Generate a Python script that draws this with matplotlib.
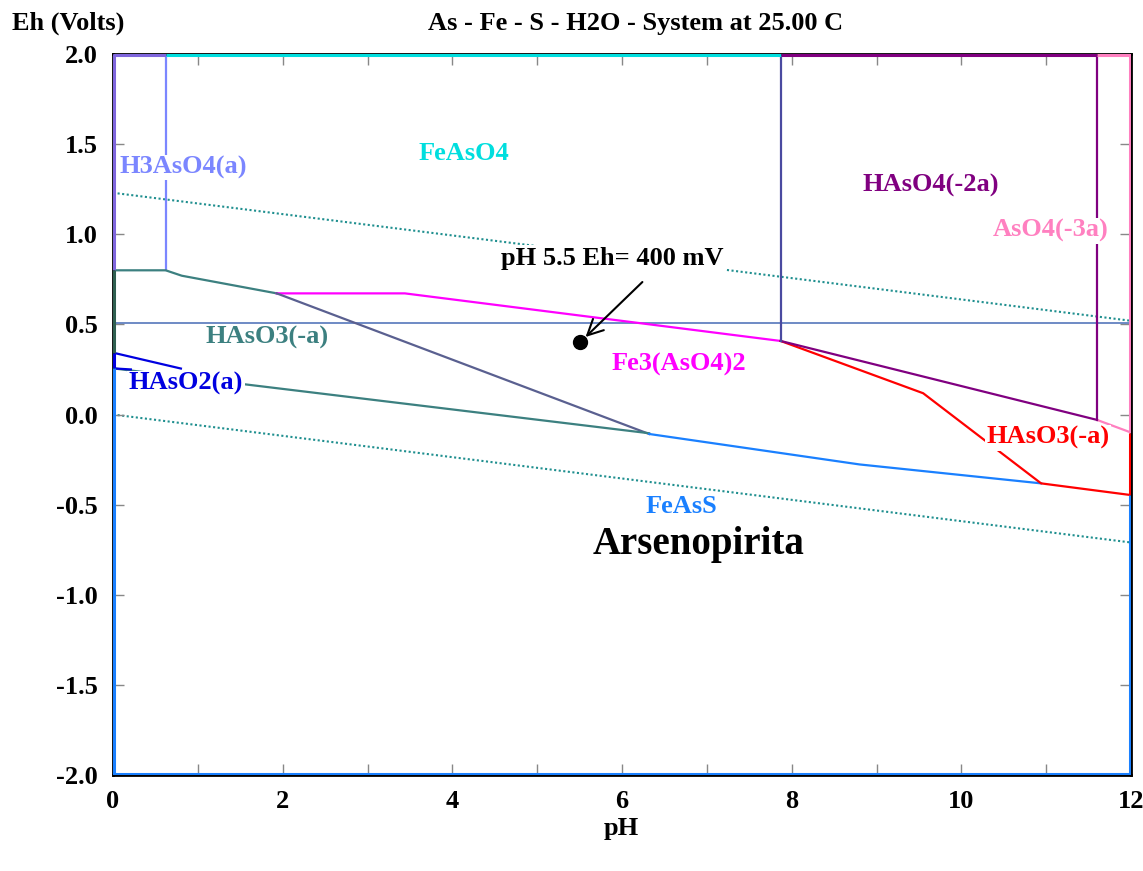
import matplotlib
matplotlib.use("Agg")
import matplotlib.pyplot as plt

# Eh-pH diagram for the As - Fe - S - H2O system at 25 C
plt.rcParams['font.family'] = ['Liberation Serif', 'DejaVu Serif']
plt.rcParams['font.weight'] = 'bold'

# water stability limits (dotted)
water_ph = [0.0, 12.0]
water_upper_eh = [1.23, 0.52]
water_lower_eh = [0.0, -0.71]

# field boundaries
h3aso4_ph = [0.62, 0.62]
h3aso4_eh = [2.0, 0.80]

hasO3_top_ph = [0.0, 0.62, 0.81, 1.93]
hasO3_top_eh = [0.80, 0.80, 0.77, 0.672]

fe3_ph = [1.93, 3.44, 7.87]
fe3_eh = [0.672, 0.672, 0.408]

slate_ph = [1.93, 6.32]
slate_eh = [0.672, -0.108]

hasO2_ph = [0.0, 0.80]
hasO2_eh = [0.343, 0.255]
hasO2_low_ph = [0.0, 0.21]
hasO2_low_eh = [0.256, 0.25]

hasO3_low_ph = [0.0, 6.32]
hasO3_low_eh = [0.256, -0.104]

feass_ph = [6.32, 8.8, 10.94]
feass_eh = [-0.108, -0.277, -0.382]

red_ph = [7.87, 9.55, 10.94, 12.0]
red_eh = [0.408, 0.118, -0.382, -0.447]

hasO4_ph = [7.87, 11.6]
hasO4_eh = [0.408, -0.03]

aso4_ph = [11.6, 12.0]
aso4_eh = [-0.03, -0.10]

v79_ph = [7.87, 7.87]
v79_eh = [2.0, 0.408]
v116_ph = [11.6, 11.6]
v116_eh = [2.0, -0.03]

hline_ph = [0.0, 12.0]
hline_eh = [0.51, 0.51]

# point of interest
point_ph = 5.5
point_eh = 0.40

C_CYAN = '#00dede'
C_H3 = '#7b86ff'
C_TEAL = '#3c8080'
C_HASO2 = '#0000e0'
C_MAG = '#ff00ff'
C_SLATE = '#5a6090'
C_FEASS = '#1a80ff'
C_PURPLE = '#800080'
C_PINK = '#ff80c0'
C_RED = '#ff0000'
C_HLINE = '#5577bb'
C_V79 = '#4a4aa0'
C_WATER = '#1f8f8f'

fig = plt.figure(figsize=(11.43, 8.71), dpi=100)
ax = fig.add_axes([0.0989, 0.1102, 0.8906, 0.8278])
ax.set_xlim(0, 12)
ax.set_ylim(-2, 2)

lw = 1.6
ax.plot(water_ph, water_upper_eh, color=C_WATER, ls=(0, (1, 1.2)), lw=1.5, zorder=1)
ax.plot(water_ph, water_lower_eh, color=C_WATER, ls=(0, (1, 1.2)), lw=1.5, zorder=1)
ax.plot(hline_ph, hline_eh, color=C_HLINE, lw=1.2, zorder=2)

ax.plot(h3aso4_ph, h3aso4_eh, color=C_H3, lw=lw, zorder=2)
ax.plot(hasO3_top_ph, hasO3_top_eh, color=C_TEAL, lw=lw, zorder=2)
ax.plot(fe3_ph, fe3_eh, color=C_MAG, lw=lw, zorder=2)
ax.plot(slate_ph, slate_eh, color=C_SLATE, lw=lw, zorder=2)
ax.plot(hasO3_low_ph, hasO3_low_eh, color=C_TEAL, lw=lw, zorder=2)
ax.plot(hasO2_ph, hasO2_eh, color=C_HASO2, lw=lw, zorder=2)
ax.plot(hasO2_low_ph, hasO2_low_eh, color=C_HASO2, lw=lw, zorder=3)
ax.plot(feass_ph, feass_eh, color=C_FEASS, lw=lw, zorder=2)
ax.plot(red_ph, red_eh, color=C_RED, lw=lw, zorder=2)
ax.plot(hasO4_ph, hasO4_eh, color=C_PURPLE, lw=lw, zorder=2)
ax.plot(aso4_ph, aso4_eh, color=C_PINK, lw=lw, zorder=2)
ax.plot(v79_ph, v79_eh, color=C_V79, lw=lw, zorder=2)
ax.plot(v116_ph, v116_eh, color=C_PURPLE, lw=lw, zorder=2)

# coloured frame segments along the plot border
e = 0.015
ed = 0.006
border = [
    ([e, e], [2.0, 0.80], '#7f66dd'),
    ([e, e], [0.80, 0.343], '#2f5f50'),
    ([e, e], [0.343, 0.256], C_HASO2),
    ([e, e], [0.256, -2.0], C_FEASS),
    ([0.0, 0.62], [2 - ed, 2 - ed], '#7f66dd'),
    ([0.62, 7.87], [2 - ed, 2 - ed], C_CYAN),
    ([7.87, 11.6], [2 - ed, 2 - ed], C_PURPLE),
    ([11.6, 12.0], [2 - ed, 2 - ed], C_PINK),
    ([0.0, 12.0], [-2 + ed, -2 + ed], C_FEASS),
    ([12 - e, 12 - e], [2.0, -0.10], C_PINK),
    ([12 - e, 12 - e], [-0.10, -0.447], C_RED),
    ([12 - e, 12 - e], [-0.447, -2.0], C_FEASS),
]
for xs, ys, c in border:
    ax.plot(xs, ys, color=c, lw=2.2, zorder=4, solid_capstyle='butt')

for s in ax.spines.values():
    s.set_linewidth(2)
    s.set_color('black')
    s.set_zorder(3)

fs = 19
ax.set_xticks(range(0, 13))
ax.set_xticklabels([str(v) if v % 2 == 0 else '' for v in range(0, 13)])
ax.set_yticks([-2.0, -1.5, -1.0, -0.5, 0.0, 0.5, 1.0, 1.5, 2.0])
ax.set_yticklabels(['-2.0', '-1.5', '-1.0', '-0.5', '0.0', '0.5', '1.0', '1.5', '2.0'])
ax.tick_params(direction='in', length=8, width=1, color='#888888',
               top=True, right=True, labelsize=fs, pad=11)
for lab in ax.get_xticklabels() + ax.get_yticklabels():
    lab.set_fontweight('bold')

white = dict(facecolor='white', edgecolor='none', pad=1)
ax.text(4.14, 1.45, 'FeAsO4', color=C_CYAN, fontsize=fs, ha='center', va='center')
ax.text(0.08, 1.37, 'H3AsO4(a)', color=C_H3, fontsize=fs, ha='left', va='center',
        bbox=white, zorder=5)
ax.text(9.64, 1.27, 'HAsO4(-2a)', color=C_PURPLE, fontsize=fs, ha='center', va='center')
ax.text(11.05, 1.02, 'AsO4(-3a)', color=C_PINK, fontsize=fs, ha='center', va='center',
        bbox=white, zorder=5)
ax.text(1.81, 0.43, 'HAsO3(-a)', color=C_TEAL, fontsize=fs, ha='center', va='center')
ax.text(0.86, 0.17, 'HAsO2(a)', color=C_HASO2, fontsize=fs, ha='center', va='center',
        bbox=white, zorder=5)
ax.text(6.67, 0.275, 'Fe3(AsO4)2', color=C_MAG, fontsize=fs, ha='center', va='center')
ax.text(11.02, -0.13, 'HAsO3(-a)', color=C_RED, fontsize=fs, ha='center', va='center',
        bbox=white, zorder=5)
ax.text(6.7, -0.51, 'FeAsS', color=C_FEASS, fontsize=fs, ha='center', va='center')
ax.text(6.9, -0.72, 'Arsenopirita', color='black', fontsize=28, ha='center', va='center')

ax.plot([point_ph], [point_eh], 'o', color='black', ms=10, zorder=6)
ax.text(5.89, 0.868, 'pH 5.5 Eh= 400 mV', fontsize=fs, ha='center', va='center',
        bbox=white, zorder=6)
ax.annotate('', xy=(point_ph + 0.07, point_eh + 0.03), xytext=(6.24, 0.735),
            arrowprops=dict(arrowstyle='->', color='black', lw=1.5,
                            mutation_scale=28, shrinkA=0, shrinkB=0), zorder=6)

fig.text(0.06, 0.973, 'Eh (Volts)', fontsize=fs, ha='center', va='center')
fig.text(0.556, 0.973, 'As - Fe - S - H2O - System at 25.00 C', fontsize=fs,
         ha='center', va='center')
fig.text(0.544, 0.049, 'pH', fontsize=fs, ha='center', va='center')

fig.savefig('out.png', dpi=100)
